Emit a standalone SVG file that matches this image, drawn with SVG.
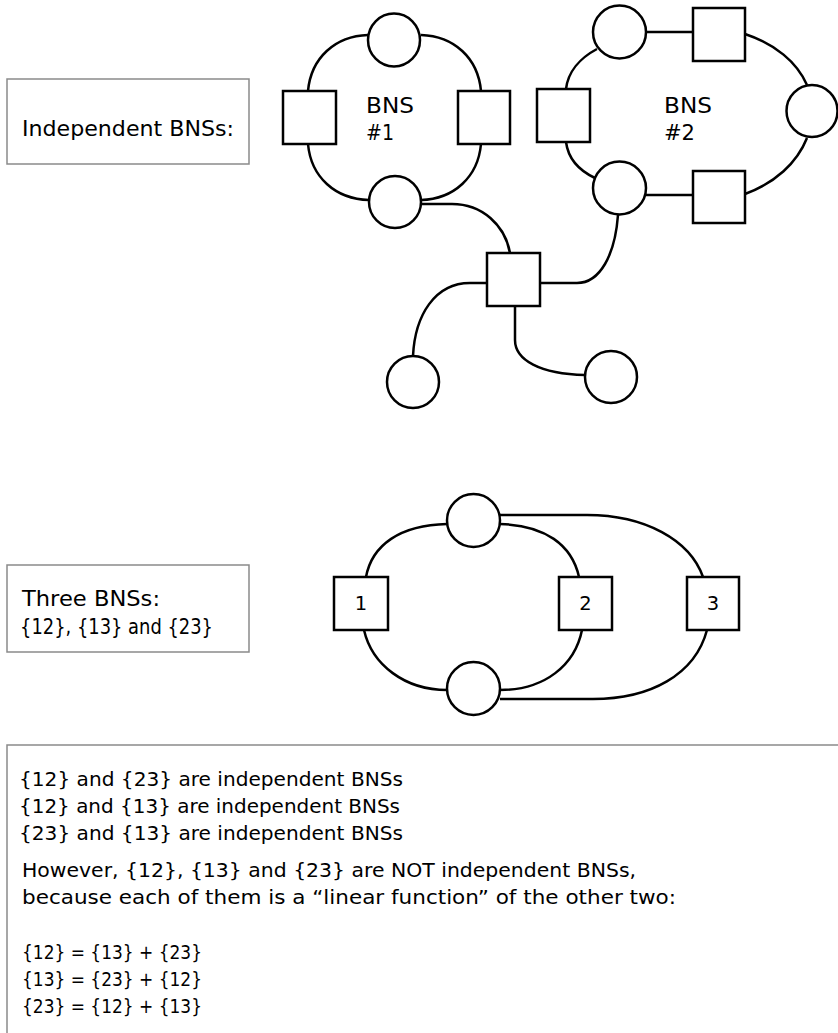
<svg xmlns="http://www.w3.org/2000/svg" width="838" height="1033" viewBox="0 0 838 1033">
<style>
.n{fill:#fff;stroke:#000;stroke-width:2.5}
.e{fill:none;stroke:#000;stroke-width:2.5}
.box{fill:#fff;stroke:#8a8a8a;stroke-width:1.5}
text{font-family:"DejaVu Sans","Liberation Sans",sans-serif;fill:#000}
.t{font-size:19.5px}
.tb{font-size:22px}
.lbl{font-size:22px}
.num{font-size:19.5px;text-anchor:middle}
</style>
<rect width="838" height="1033" fill="#fff"/>
<g id="connectors">
<path class="e" d="M368,35 C335,36 311,58 308,91"/>
<path class="e" d="M421,35 C454,36 478,58 481,91"/>
<path class="e" d="M308,144 C311,177 335,199 369,200"/>
<path class="e" d="M481,144 C478,177 454,199 421,200"/>
<path class="e" d="M597,49 C580,58 568,72 566,89"/>
<path class="e" d="M566,142 C568,157 578,170 595,178"/>
<path class="e" d="M646,32 L693,32"/>
<path class="e" d="M646,195 L693,195"/>
<path class="e" d="M745,34 C775,44 797,62 807,85"/>
<path class="e" d="M807,138 C797,163 775,183 745,194"/>
<path class="e" d="M421,204 L452,204 C482,204 505,225 510,253"/>
<path class="e" d="M618,215 C615,255 600,283 577,283 L540,283"/>
<path class="e" d="M487,283 L470,283 C435,283 415,315 413,356"/>
<path class="e" d="M515,306 L515,340 C515,360 540,374 585,375"/>
<path class="e" d="M447,524 C400,525 372,545 366,577"/>
<path class="e" d="M500,524 C545,525 572,545 579,577"/>
<path class="e" d="M500,515 L587,515 C645,515 690,540 703,577"/>
<path class="e" d="M364,630 C372,665 405,690 447,690"/>
<path class="e" d="M582,630 C575,665 545,690 500,690"/>
<path class="e" d="M707,630 C695,675 650,699 593,699 L500,699"/>
</g>
<g id="box-independent">
<rect class="box" x="7" y="79" width="242" height="85"/>
<text class="tb" x="22" y="136" textLength="212" lengthAdjust="spacingAndGlyphs">Independent BNSs:</text>
</g>
<g id="bns1-top"><ellipse class="n" cx="394" cy="40" rx="26" ry="26.5"/></g>
<g id="bns1-left"><rect class="n" x="283" y="91" width="53" height="53"/></g>
<g id="bns1-right"><rect class="n" x="458" y="91" width="52" height="53"/></g>
<g id="bns1-bottom"><ellipse class="n" cx="395" cy="202" rx="26" ry="26"/></g>
<g id="bns1-label"><text class="lbl" x="366" y="113" textLength="48" lengthAdjust="spacingAndGlyphs">BNS</text><text class="lbl" x="366" y="140" textLength="28" lengthAdjust="spacingAndGlyphs">#1</text></g>
<g id="bns2-top"><ellipse class="n" cx="619.5" cy="32" rx="26.5" ry="26.5"/></g>
<g id="bns2-topsq"><rect class="n" x="693" y="8" width="52" height="53"/></g>
<g id="bns2-right"><ellipse class="n" cx="812" cy="111" rx="25.5" ry="26"/></g>
<g id="bns2-left"><rect class="n" x="537" y="89" width="53" height="53"/></g>
<g id="bns2-bottom"><ellipse class="n" cx="619.5" cy="188" rx="26.5" ry="26.5"/></g>
<g id="bns2-botsq"><rect class="n" x="693" y="171" width="52" height="52"/></g>
<g id="bns2-label"><text class="lbl" x="664" y="113" textLength="48" lengthAdjust="spacingAndGlyphs">BNS</text><text class="lbl" x="664" y="140" textLength="31" lengthAdjust="spacingAndGlyphs">#2</text></g>
<g id="center-sq"><rect class="n" x="487" y="253" width="53" height="53"/></g>
<g id="leaf-left"><ellipse class="n" cx="413" cy="382" rx="26" ry="26"/></g>
<g id="leaf-right"><ellipse class="n" cx="611" cy="377" rx="26" ry="26"/></g>
<g id="box-three">
<rect class="box" x="7" y="565" width="242" height="87"/>
<text class="tb" x="22" y="606" textLength="138" lengthAdjust="spacingAndGlyphs">Three BNSs:</text>
<text class="tb" x="20" y="634" textLength="193" lengthAdjust="spacingAndGlyphs">{12}, {13} and {23}</text>
</g>
<g id="t-top"><ellipse class="n" cx="473.5" cy="520.5" rx="26.5" ry="26.5"/></g>
<g id="t-bottom"><ellipse class="n" cx="473.5" cy="688.5" rx="26.5" ry="26.5"/></g>
<g id="sq1"><rect class="n" x="334" y="577" width="54" height="53"/><text class="num" x="361" y="610">1</text></g>
<g id="sq2"><rect class="n" x="559" y="577" width="53" height="53"/><text class="num" x="585.5" y="610">2</text></g>
<g id="sq3"><rect class="n" x="687" y="577" width="52" height="53"/><text class="num" x="713" y="610">3</text></g>
<g id="box-text">
<rect class="box" x="7" y="745" width="840" height="300"/>
<text class="t" x="19" y="786" textLength="384" lengthAdjust="spacingAndGlyphs">{12} and {23} are independent BNSs</text>
<text class="t" x="19" y="813" textLength="381" lengthAdjust="spacingAndGlyphs">{12} and {13} are independent BNSs</text>
<text class="t" x="19" y="840" textLength="384" lengthAdjust="spacingAndGlyphs">{23} and {13} are independent BNSs</text>
<text class="t" x="22" y="877" textLength="614" lengthAdjust="spacingAndGlyphs">However, {12}, {13} and {23} are NOT independent BNSs,</text>
<text class="t" x="22" y="904" textLength="654" lengthAdjust="spacingAndGlyphs">because each of them is a “linear function” of the other two:</text>
<text class="t" x="22" y="959" textLength="180" lengthAdjust="spacingAndGlyphs">{12} = {13} + {23}</text>
<text class="t" x="22" y="986" textLength="180" lengthAdjust="spacingAndGlyphs">{13} = {23} + {12}</text>
<text class="t" x="22" y="1013" textLength="180" lengthAdjust="spacingAndGlyphs">{23} = {12} + {13}</text>
</g>
</svg>
